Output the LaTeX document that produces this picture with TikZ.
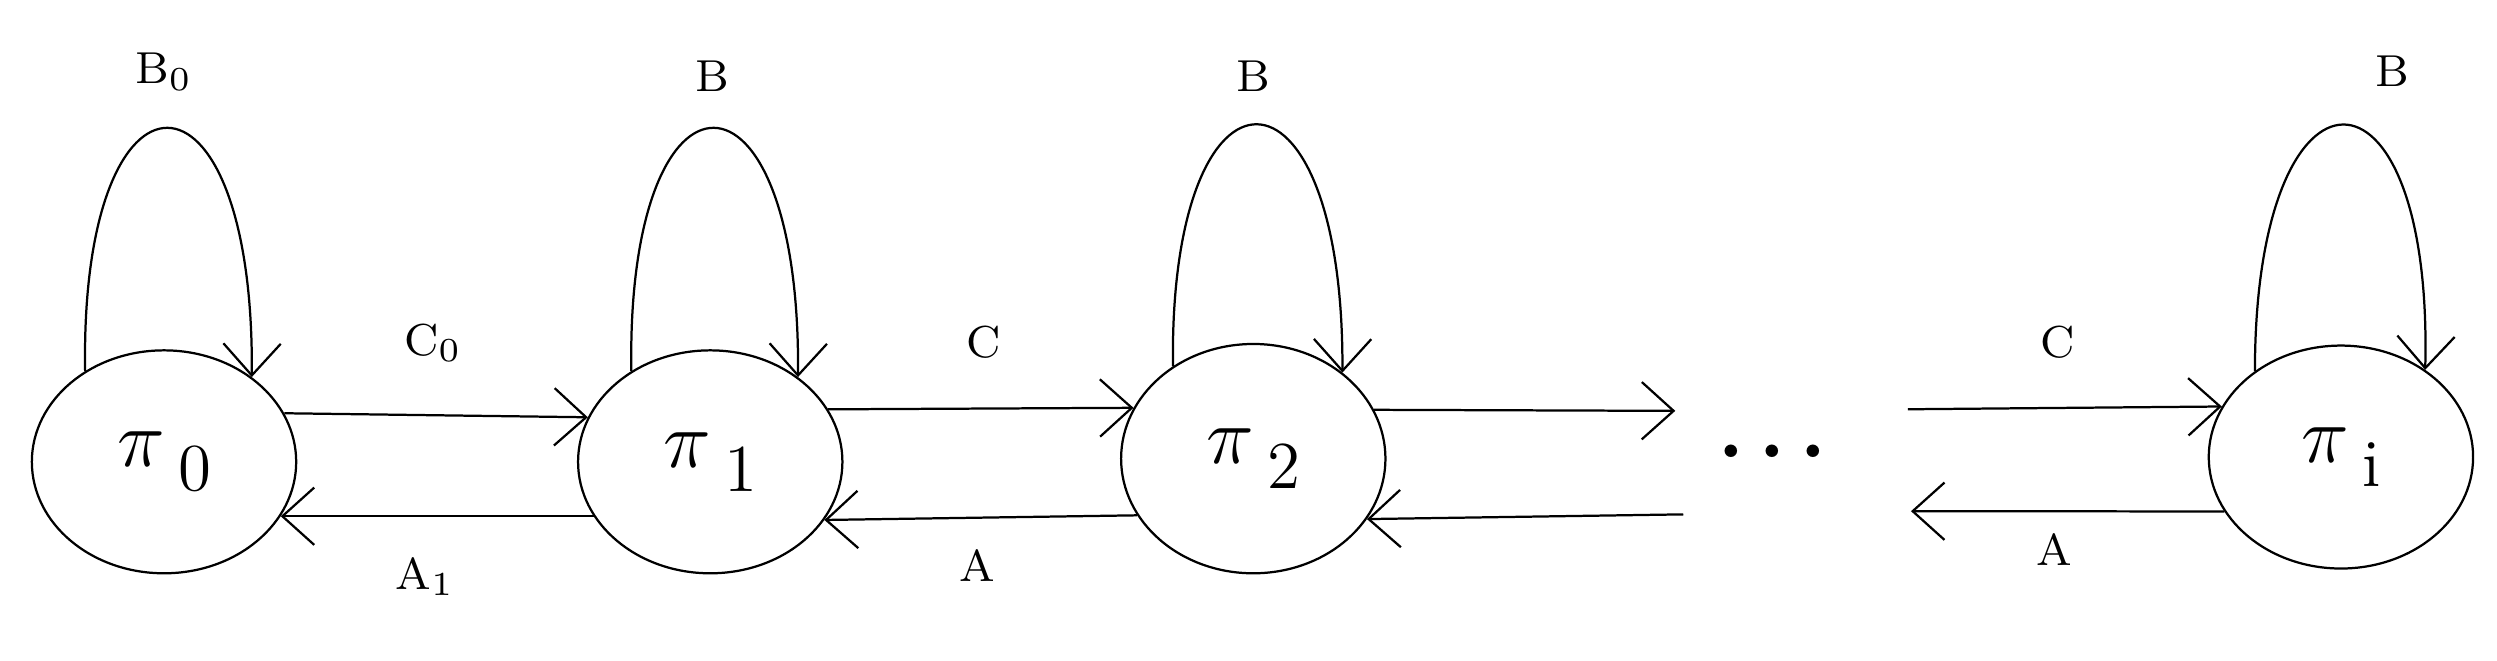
\documentclass[tikz,border=0pt]{standalone}
\usepackage{amsmath}
\usetikzlibrary{shapes.geometric, arrows.meta}

\tikzset{
  state/.style={draw, ellipse, minimum width=1.66cm, minimum height=1.4cm, inner sep=0pt, font=\Large},
  flow/.style={-{Straight Barb[length=2mm,width=3.6mm]}},
  lbl/.style={font=\footnotesize}
}
\newcommand{\stlabel}[1]{$\pi$\,\raisebox{-0.7ex}{\large #1}}

\begin{document}
\begin{tikzpicture}[x=0.1mm, y=-0.1mm]
        \useasboundingbox (0,0) rectangle (1568,415);

        % States
        \node[state] (p0) at (103,290) {\stlabel{0}};
        \node[state] (p1) at (446,290) {\stlabel{1}};
        \node[state, minimum height=1.44cm] (p2) at (787,288) {\stlabel{2}};
        \node[state] (pi) at (1470,287) {\stlabel{i}};
        \node (dots) at (1118,284) {\Large$\boldsymbol{\cdots}$};

        % Self loops
        \draw[flow] (p0.131) .. controls (50,29) and (160,29) .. (p0.44);
        \draw[flow] (p1.131) .. controls (393,29) and (503,29) .. (p1.44);
        \draw[flow] (p2.131) .. controls (734,27) and (844,27) .. (p2.44);
        \draw[flow] (pi.135) .. controls (1416,27) and (1528,27) .. (pi.46);
        \node[lbl] (b0) at (103,45) {B$_0$};
        \node[lbl] (b1) at (447,48) {B};
        \node[lbl] (b2) at (787,48) {B};
        \node[lbl] (bi) at (1502,45) {B};

        % Forward / backward
        \draw[flow] (p0.22) -- (p1.160);
        \draw[flow] (p1.205) -- (p0.-25);
        \draw[flow] (p1.24) -- (p2.157);
        \draw[flow] (p2.206) -- (p1.-27);
        \node[lbl] (c0) at (272,215) {C$_0$};
        \node[lbl] (a1) at (267,362) {A$_1$};
        \node[lbl] (c1) at (618,215) {C};
        \node[lbl] (a2) at (614,355) {A};

        % Towards the dots
        \coordinate (r1) at (1052,258);
        \coordinate (r2) at (1057,323);
        \coordinate (l1) at (1198,257);
        \coordinate (l2) at (1200,321);
        \draw[flow] (p2.22) -- (r1);
        \draw[flow] (r2) -- (p2.-28);
        \draw[flow] (l1) -- (pi.157);
        \draw[flow] (pi.205) -- (l2);
        \node[lbl] (ci) at (1292,215) {C};
        \node[lbl] (ai) at (1290,345) {A};
\end{tikzpicture}
\end{document}
